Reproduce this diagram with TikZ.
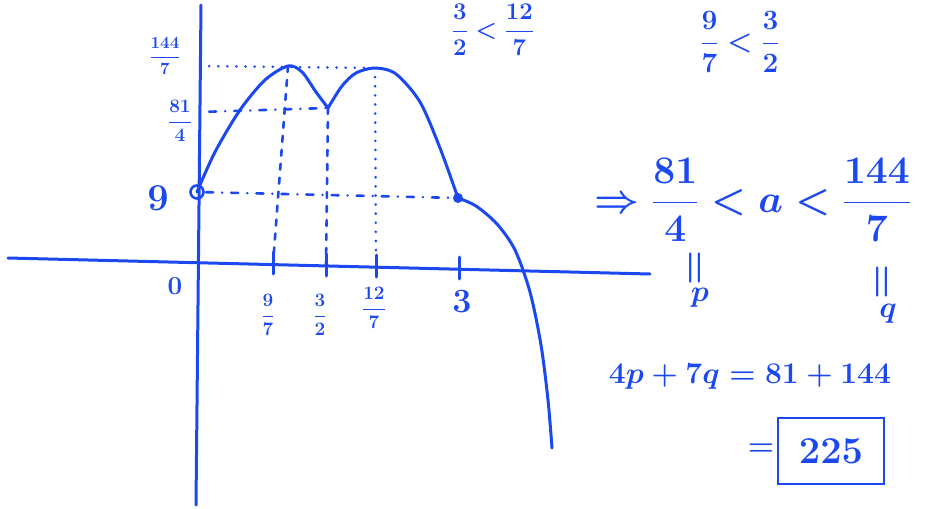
\RequirePackage{fix-cm}
\documentclass[tikz,border=0pt]{standalone}
\usepackage{amsmath}
\usepackage{tikz}
\usetikzlibrary{positioning,calc}
\definecolor{pen}{RGB}{28,72,240}

\begin{document}
\begin{tikzpicture}[x=1pt, y=-1pt,
  ink/.style={draw=pen, line width=3pt, line cap=round, line join=round},
  dotline/.style={draw=pen, line width=2.8pt, line cap=round, dash pattern=on 0.1pt off 9pt},
  dashline/.style={draw=pen, line width=2.6pt, line cap=round, dash pattern=on 6pt off 8pt},
  mixline/.style={draw=pen, line width=2.6pt, line cap=round, dash pattern=on 0.1pt off 9pt on 7pt off 9pt},
  lbl/.style={text=pen, inner sep=1pt, font=\fontsize{19}{24}\selectfont\boldmath},
  mid/.style={text=pen, inner sep=1pt, font=\fontsize{30}{36}\selectfont\boldmath},
  big/.style={text=pen, inner sep=1pt, font=\fontsize{39}{46}\selectfont\boldmath}]
  \useasboundingbox (0,0) rectangle (943,509);
  % axes
  \coordinate (xl) at (8,258);
  \coordinate (xr) at (650,274);
  \coordinate (yt) at (201,5);
  \coordinate (yb) at (196,505);
  \draw[ink] (xl) -- (xr);
  \draw[ink] (yt) -- (yb);
  \node[lbl, font=\fontsize{26}{28}\selectfont\boldmath] (orig) at (175,286) {$0$};
  % points on the graph
  \coordinate (yint) at (197,192);
  \coordinate (pkA) at (288,66);
  \coordinate (dip) at (328,108);
  \coordinate (pkB) at (375,68);
  \coordinate (knee) at (458,198);
  \coordinate (y144) at (200,66);
  \coordinate (y814) at (200,112);
  % ticks on the x axis
  \coordinate (t97) at (273,264);
  \coordinate (t32) at (326,266);
  \coordinate (t127) at (376,267);
  \coordinate (t3) at (459,269);
  \foreach \t in {t97,t32,t127,t3}
    \draw[ink] (\t) ++(0,-12) -- ++(0,22);
  \node[lbl] (l97) at (268,315) {$\dfrac{9}{7}$};
  \node[lbl] (l32) at (320,315) {$\dfrac{3}{2}$};
  \node[lbl] (l127) at (374,308) {$\dfrac{12}{7}$};
  \node[mid, font=\fontsize{34}{38}\selectfont\boldmath] (l3) at (462,302) {$3$};
  % labels on the y axis
  \node[lbl, font=\fontsize{17}{20}\selectfont\boldmath] (l144) at (165,56) {$\dfrac{144}{7}$};
  \node[lbl] (l814) at (180,121) {$\dfrac{81}{4}$};
  \node[big, font=\fontsize{38}{40}\selectfont\boldmath] (l9) at (158,198) {$9$};
  % guide lines
  \draw[dotline] (y144) -- (pkB);
  \draw[mixline] (y814) -- (dip);
  \draw[mixline] (yint) -- (knee);
  \draw[dashline] (pkA) -- (t97);
  \draw[dashline] (dip) -- (t32);
  \draw[dotline] (pkB) -- (t127);
  % the graph
  \draw[ink] plot[smooth] coordinates {(yint) (215,152) (240,110) (265,80) (pkA) (302,72) (316,92) (dip)};
  \draw[ink] plot[smooth] coordinates {(dip) (342,86) (356,73) (pkB) (396,74) (420,102) (440,148) (knee)};
  \draw[ink] plot[smooth] coordinates {(knee) (476,206) (497,224) (515,250) (530,292) (541,345) (548,400) (552,448)};
  \draw[draw=pen, line width=2.6pt] (yint) circle (6.5pt);
  \fill[pen] (knee) circle (5pt);
  % side notes
  \node[mid, font=\fontsize{24}{28}\selectfont\boldmath] (cmpA) at (493,30) {$\dfrac{3}{2}<\dfrac{12}{7}$};
  \node[mid, font=\fontsize{28}{32}\selectfont\boldmath] (cmpB) at (740,42) {$\dfrac{9}{7}<\dfrac{3}{2}$};
  \node[big] (range) at (753,200) {$\Rightarrow\dfrac{81}{4}<a<\dfrac{144}{7}$};
  \node[mid, rotate=90, font=\fontsize{40}{44}\selectfont\boldmath] (eqp) at (697,268) {$=$};
  \node[mid] (pp) at (700,298) {$p$};
  \node[mid, rotate=90, font=\fontsize{40}{44}\selectfont\boldmath] (eqq) at (884,282) {$=$};
  \node[mid] (qq) at (888,314) {$q$};
  \node[mid, font=\fontsize{30}{36}\selectfont\boldmath] (sum) at (750,377) {$4p+7q=81+144$};
  \node[draw=pen, line width=2.8pt, minimum width=106pt, minimum height=66pt, text=pen, font=\fontsize{38}{44}\selectfont\boldmath] (ans) at (831,451) {$225$};
  \node[mid] (eqans) at (761,450) {$=$};
\end{tikzpicture}
\end{document}
